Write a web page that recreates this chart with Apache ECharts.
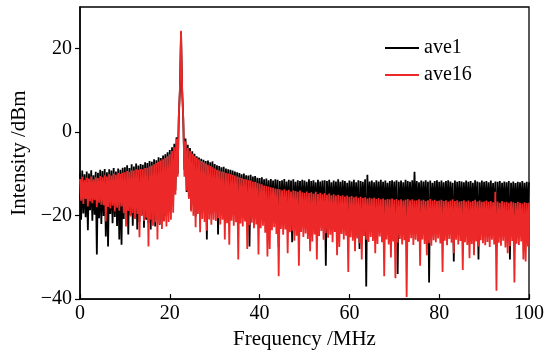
<!DOCTYPE html>
<html>
<head>
<meta charset="utf-8">
<script src="https://cdn.jsdelivr.net/npm/echarts@6/dist/echarts.min.js"></script>
<style>
html,body{margin:0;padding:0;background:#fff;}
#chart{width:557px;height:355px;}
</style>
</head>
<body>
<div id="chart"></div>
<script>
// Frequency grid: 0 to 100 MHz, one sample every 0.25 MHz (401 samples)
const freqStart = 0;
const freqStep = 0.25;

const seriesNames = ['ave1', 'ave16'];

// ave1 (black) intensity in dBm
const ave1 = [
  -9.8, -21.0, -9.2, -19.5, -10.1, -20.4, -9.4, -23.5, -9.9, -18.7, -9.1, -21.2, -10.3, -19.8, -9.5, -29.3, -9.7, -20.6, -9.0, -22.0,
  -9.3, -20.1, -8.8, -25.0, -9.6, -27.4, -8.9, -19.6, -9.2, -21.8, -8.6, -20.3, -9.4, -22.5, -8.7, -25.7, -9.0, -27.0, -8.5, -20.8,
  -8.4, -21.2, -7.9, -24.5, -8.6, -19.9, -7.7, -22.4, -8.2, -20.6, -7.5, -23.3, -8.0, -21.5, -7.6, -19.8, -7.8, -22.9, -7.2, -21.0,
  -7.4, -21.8, -6.9, -23.3, -7.1, -20.4, -6.5, -22.6, -6.7, -21.0, -6.0, -22.2, -6.2, -20.5, -5.6, -21.3, -5.3, -20.0, -4.8, -19.2,
  -4.3, -18.5, -3.6, -16.5, -2.8, -14.0, -1.2, -10.0, 3.5, 10.0, 24.0, 10.0, 3.0, -9.0, -1.5, -14.3, -3.0, -15.5, -3.8, -18.6,
  -4.6, -17.0, -5.2, -20.2, -5.8, -16.8, -6.1, -18.4, -6.4, -17.5, -6.6, -19.1, -6.9, -25.7, -6.8, -18.2, -7.2, -19.6, -7.0, -18.0,
  -7.6, -19.2, -7.9, -24.5, -8.1, -18.5, -8.4, -20.1, -8.3, -19.0, -8.7, -18.6, -8.9, -20.4, -9.0, -19.3, -9.2, -18.8, -9.4, -20.0,
  -9.6, -19.5, -9.8, -18.9, -10.1, -20.6, -9.9, -19.1, -10.3, -20.2, -10.4, -27.4, -10.2, -19.8, -10.6, -18.7, -10.5, -20.5, -10.9, -19.4,
  -11.0, -20.1, -10.8, -19.3, -11.3, -21.0, -11.1, -19.6, -11.5, -20.4, -11.2, -19.0, -11.6, -20.8, -11.3, -19.5, -11.4, -27.6, -11.7, -20.2,
  -11.5, -19.8, -11.2, -20.6, -11.8, -19.4, -11.4, -20.9, -11.6, -26.4, -11.3, -19.7, -11.9, -20.3, -11.5, -19.9, -11.7, -21.1, -11.4, -20.0,
  -11.6, -20.4, -11.9, -19.6, -11.3, -21.0, -11.7, -20.1, -11.5, -19.5, -12.0, -20.7, -11.4, -19.8, -11.8, -20.5, -11.6, -21.3, -11.5, -32.0,
  -11.7, -20.2, -11.4, -19.7, -12.0, -20.9, -11.6, -19.4, -11.8, -20.6, -11.3, -20.0, -11.9, -21.2, -11.5, -19.6, -11.7, -20.8, -12.1, -20.3,
  -11.6, -19.9, -11.8, -20.5, -11.4, -19.8, -12.0, -20.7, -11.5, -28.0, -11.7, -20.3, -11.9, -19.5, -11.3, -37.0, -10.2, -20.4, -11.8, -20.0,
  -11.6, -20.6, -12.0, -19.7, -11.5, -21.0, -11.8, -20.2, -11.4, -19.8, -11.9, -20.9, -11.6, -20.1, -12.1, -19.6, -11.7, -20.7, -11.5, -20.3,
  -11.8, -20.0, -11.5, -34.0, -11.9, -20.5, -11.6, -19.9, -12.0, -20.8, -11.4, -20.2, -11.7, -19.7, -11.9, -20.6, -11.5, -20.1, -9.5, -20.4,
  -11.7, -20.3, -12.0, -19.8, -11.6, -20.9, -11.8, -20.0, -11.5, -20.6, -11.9, -36.0, -11.6, -20.4, -12.1, -19.7, -11.7, -20.8, -11.5, -20.2,
  -11.9, -20.5, -11.6, -19.9, -12.0, -20.7, -11.7, -20.1, -11.5, -20.4, -11.8, -19.8, -12.1, -31.0, -11.6, -20.6, -11.9, -20.0, -11.7, -20.9,
  -11.8, -20.3, -12.0, -19.7, -11.6, -20.8, -11.9, -20.2, -11.7, -20.5, -12.1, -19.9, -11.5, -20.7, -11.8, -30.5, -12.0, -20.1, -11.6, -20.4,
  -11.9, -20.6, -11.7, -20.0, -12.0, -20.3, -11.6, -19.8, -12.2, -20.9, -11.8, -27.6, -11.9, -20.2, -11.7, -20.5, -12.1, -19.9, -11.8, -20.7,
  -12.0, -20.1, -11.7, -30.5, -12.1, -20.4, -11.8, -20.0, -12.2, -20.6, -11.9, -19.8, -12.0, -20.3, -11.7, -20.8, -12.1, -20.2, -11.9, -20.5,
  -12.0
];

// ave16 (red) intensity in dBm
const ave16 = [
  -11.2, -16.4, -10.7, -17.2, -11.4, -16.0, -10.9, -17.8, -11.1, -16.6, -10.6, -17.0, -11.3, -16.3, -10.8, -18.0, -11.0, -16.9, -10.5, -17.4,
  -10.8, -17.5, -10.3, -21.4, -10.6, -17.9, -10.1, -18.3, -10.4, -17.6, -9.9, -19.0, -10.2, -18.1, -9.8, -18.8, -10.0, -17.8, -9.7, -19.4,
  -9.6, -22.6, -9.3, -18.9, -9.5, -20.2, -9.1, -19.4, -9.2, -20.8, -8.9, -19.6, -9.0, -25.2, -8.8, -20.1, -8.9, -21.3, -8.6, -20.5,
  -8.5, -27.4, -8.2, -21.0, -8.0, -22.4, -7.7, -21.6, -7.4, -25.7, -7.1, -22.0, -6.8, -23.2, -6.5, -21.4, -6.2, -22.6, -5.8, -21.5,
  -5.3, -21.0, -4.5, -19.3, -3.6, -15.0, -1.6, -10.7, 3.8, 10.5, 24.3, 10.5, 3.3, -10.7, -2.2, -14.0, -3.8, -16.0, -4.5, -19.0,
  -5.2, -20.0, -5.7, -22.8, -6.1, -19.6, -6.5, -24.0, -6.9, -20.8, -7.2, -21.5, -7.5, -23.6, -7.8, -20.9, -8.1, -22.2, -8.4, -21.0,
  -8.7, -21.3, -9.0, -20.6, -9.2, -22.1, -9.4, -21.0, -9.5, -25.7, -9.8, -21.8, -9.9, -27.0, -10.1, -21.2, -10.2, -22.4, -10.4, -21.6,
  -10.6, -30.5, -10.8, -21.9, -11.0, -22.6, -11.2, -21.4, -11.3, -28.0, -11.5, -22.3, -11.6, -21.7, -11.8, -23.0, -11.9, -22.1, -12.1, -29.3,
  -12.3, -23.0, -12.5, -22.4, -12.8, -24.1, -12.9, -29.8, -13.0, -28.0, -13.2, -23.5, -13.3, -22.8, -13.5, -24.4, -13.6, -34.5, -13.7, -23.2,
  -13.9, -24.6, -13.7, -23.3, -14.0, -29.0, -13.8, -24.0, -14.2, -23.6, -13.9, -26.0, -14.1, -24.8, -14.3, -32.0, -14.0, -23.9, -14.4, -25.1,
  -14.5, -24.3, -14.2, -25.6, -14.6, -28.5, -14.4, -26.2, -14.7, -24.5, -14.3, -30.5, -14.8, -24.9, -14.5, -23.7, -14.9, -25.8, -14.6, -24.2,
  -15.0, -25.3, -14.7, -24.6, -15.1, -26.4, -14.9, -23.9, -15.2, -29.5, -15.0, -27.5, -15.3, -24.4, -15.1, -25.7, -15.4, -24.8, -15.2, -33.5,
  -15.5, -25.2, -15.3, -26.0, -15.6, -28.5, -15.4, -25.5, -15.7, -26.6, -15.5, -30.5, -15.8, -24.9, -15.6, -25.8, -15.9, -26.3, -15.7, -25.1,
  -15.9, -26.1, -15.7, -29.0, -16.0, -26.8, -15.8, -25.0, -16.1, -26.4, -15.9, -34.5, -16.2, -25.7, -16.0, -26.9, -16.1, -30.0, -15.9, -26.2,
  -16.2, -35.0, -16.0, -26.5, -16.3, -25.6, -16.1, -26.9, -16.4, -25.9, -16.2, -39.5, -16.0, -26.3, -16.3, -25.4, -16.1, -27.0, -16.4, -25.8,
  -16.3, -26.2, -16.1, -32.0, -16.4, -25.7, -16.2, -26.8, -16.5, -29.5, -16.3, -26.6, -16.0, -27.2, -16.4, -25.9, -16.2, -26.4, -16.5, -25.5,
  -16.4, -26.7, -16.2, -33.5, -16.5, -26.0, -16.3, -27.1, -16.6, -25.6, -16.4, -26.5, -16.1, -29.0, -16.5, -25.8, -16.3, -26.9, -16.6, -26.1,
  -16.5, -33.0, -16.3, -26.4, -16.6, -27.0, -16.4, -30.2, -16.7, -26.8, -16.5, -29.5, -16.2, -26.2, -16.6, -27.4, -16.4, -25.9, -16.7, -26.6,
  -16.6, -27.1, -16.4, -26.3, -16.7, -27.5, -16.5, -25.8, -16.8, -26.9, -14.3, -38.0, -16.6, -26.5, -16.9, -27.2, -16.5, -26.0, -16.8, -27.6,
  -16.7, -29.0, -16.9, -27.3, -16.6, -26.1, -16.8, -36.0, -17.0, -26.7, -16.7, -27.0, -16.9, -26.2, -17.1, -30.5, -16.8, -31.0, -17.0, -27.4,
  -16.9
];

function toPairs(values) {
  return values.map(function (v, i) { return [freqStart + i * freqStep, v]; });
}

const chart = echarts.init(document.getElementById('chart'), null, { renderer: 'canvas' });
const serif = 'Liberation Serif';
const minusFmt = function (v) { return String(v).replace('-', '\u2212'); };

chart.setOption({
  animation: false,
  backgroundColor: '#fff',
  grid: {
    left: 80, right: 28, top: 7, bottom: 55,
    show: true, borderColor: '#000', borderWidth: 1.3, backgroundColor: 'transparent'
  },
  legend: {
    orient: 'vertical',
    left: 380, top: 33,
    itemWidth: 34, itemHeight: 2, itemGap: 7,
    icon: 'rect',
    textStyle: { fontFamily: serif, fontSize: 20, color: '#000' },
    data: seriesNames
  },
  xAxis: {
    type: 'value', min: 0, max: 100, interval: 20,
    name: 'Frequency /MHz', nameLocation: 'middle', nameGap: 26,
    nameTextStyle: { fontFamily: serif, fontSize: 21, color: '#000' },
    axisLine: { show: true, onZero: false, lineStyle: { color: '#000', width: 1.5 } },
    axisTick: { show: true, inside: true, length: 5, lineStyle: { color: '#000', width: 1.2 } },
    axisLabel: { fontFamily: serif, fontSize: 20, color: '#000', margin: 5 },
    splitLine: { show: false }
  },
  yAxis: {
    type: 'value', min: -40, max: 30, interval: 20,
    name: 'Intensity /dBm', nameLocation: 'middle', nameGap: 46,
    nameTextStyle: { fontFamily: serif, fontSize: 21, color: '#000' },
    axisLine: { show: true, onZero: false, lineStyle: { color: '#000', width: 1.5 } },
    axisTick: { show: true, inside: false, length: 5, lineStyle: { color: '#000', width: 1.2 } },
    axisLabel: { fontFamily: serif, fontSize: 20, color: '#000', margin: 8, showMaxLabel: false, formatter: minusFmt },
    splitLine: { show: false }
  },
  series: [
    {
      name: seriesNames[0], type: 'line', data: toPairs(ave1),
      symbol: 'none', lineStyle: { color: '#000', width: 1.8 }, itemStyle: { color: '#000' }
    },
    {
      name: seriesNames[1], type: 'line', data: toPairs(ave16),
      symbol: 'none', lineStyle: { color: '#ec2828', width: 1.8 }, itemStyle: { color: '#ec2828' }
    }
  ]
});
</script>
</body>
</html>
